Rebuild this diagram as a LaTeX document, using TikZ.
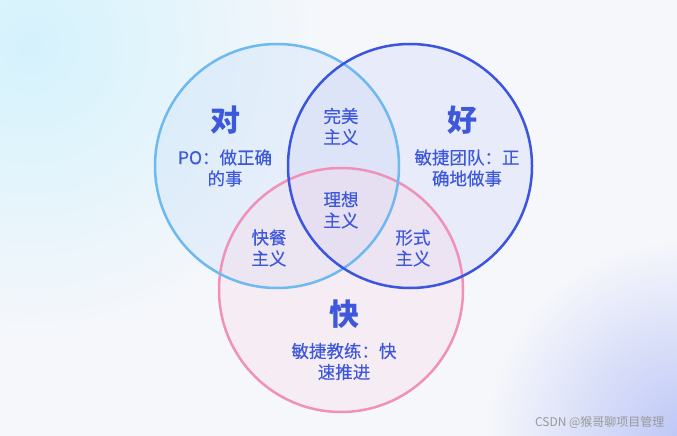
\documentclass[tikz,border=0pt]{standalone}
\usepackage{fontspec}
\newfontfamily\cjk{Noto Sans CJK SC}
\newfontfamily\cjkm{Noto Sans CJK SC}[FakeBold=0.3]
\usepackage{tikz}
\usetikzlibrary{positioning}
\usepackage{xcolor}

\definecolor{bgcol}{RGB}{246,247,251}
\definecolor{cyanglow}{RGB}{212,242,252}
\definecolor{blueglow}{RGB}{188,198,246}
\definecolor{duiline}{RGB}{110,185,240}
\definecolor{haoline}{RGB}{60,85,225}
\definecolor{kuailine}{RGB}{240,145,185}
\definecolor{duifill}{RGB}{200,222,248}
\definecolor{haofill}{RGB}{205,210,245}
\definecolor{kuaifill}{RGB}{248,212,228}
\definecolor{txtblue}{RGB}{62,88,220}

\begin{document}
\begin{tikzpicture}[x=1pt,y=-1pt,
    big/.style={font=\cjk\bfseries\fontsize{30}{32}\selectfont, text=txtblue},
    small/.style={font=\cjkm\fontsize{17.5}{21}\selectfont, text=txtblue, align=center}]
    % 背景
    \useasboundingbox (0,0) rectangle (677,436);
    \fill[bgcol] (0,0) rectangle (677,436);
    \begin{scope}
        \clip (0,0) rectangle (677,436);
        \shade[inner color=cyanglow, outer color=bgcol] (30,45) circle (300pt);
        \shade[inner color=blueglow, outer color=bgcol] (685,440) circle (200pt);
    \end{scope}

    % 三个圆
    \fill[duifill, opacity=0.32] (277,166) circle (122pt);
    \fill[haofill, opacity=0.32] (410,166) circle (122pt);
    \fill[kuaifill, opacity=0.3] (341,290) circle (122pt);
    \draw[kuailine, line width=2.5pt] (341,290) circle (122pt);
    \draw[duiline, line width=2.5pt] (277,166) circle (122pt);
    \draw[haoline, line width=2.5pt] (410,166) circle (122pt);

    % 标注
    \node[big] (dui) at (225,120) {对};
    \node[small] (duitxt) at (225,168) {PO：做正确\\的事};
    \node[big] (hao) at (462,120) {好};
    \node[small] (haotxt) at (467,168) {敏捷团队：正\\确地做事};
    \node[big] (kuai) at (344,314) {快};
    \node[small] (kuaitxt) at (344,361.5) {敏捷教练：快\\速推进};

    % 交集
    \node[small] (wanmei) at (341,126.5) {完美\\主义};
    \node[small] (lixiang) at (341,210) {理想\\主义};
    \node[small] (kuaican) at (269,248) {快餐\\主义};
    \node[small] (xingshi) at (413,248) {形式\\主义};

    \node[anchor=east, font=\cjk\fontsize{12}{12}\selectfont, text=gray!80] (csdn) at (668,422) {CSDN @猴哥聊项目管理};
\end{tikzpicture}
\end{document}
